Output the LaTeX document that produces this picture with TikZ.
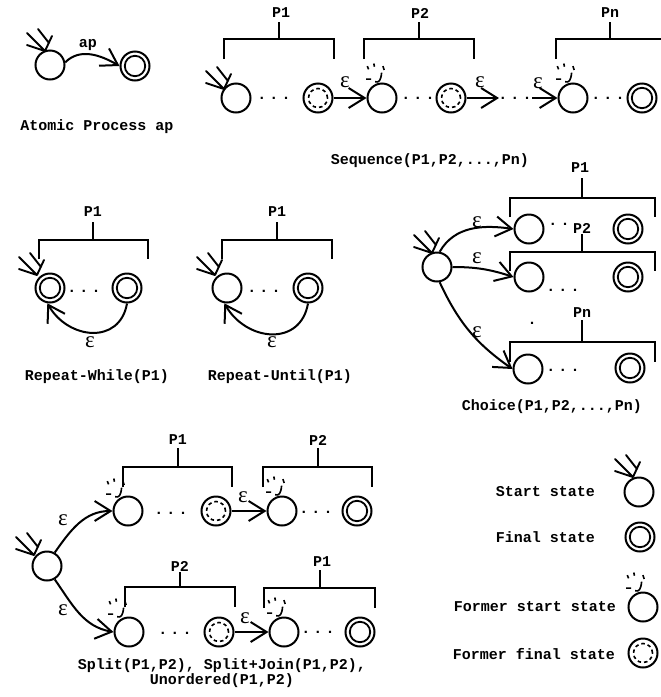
\documentclass[tikz,border=0pt]{standalone}
\usepackage{fontspec}
\newfontfamily\cour{Liberation Mono}
\newfontfamily\epsf{Liberation Serif}
\usetikzlibrary{arrows.meta}
\newcommand{\mybrk}[6]{\draw[lw] (#1,-#4)--(#1,-#3)--(#2,-#3)--(#2,-#4) (#5,-#3)--(#5,-#6);}
\begin{document}
\begin{tikzpicture}[x=1pt,y=1pt,
  lw/.style={line width=2pt},
  txt/.style={inner sep=0pt, font=\cour\bfseries\fontsize{15}{16}\selectfont},
  eps/.style={inner sep=0pt, font=\epsf\fontsize{23}{23}\selectfont},
  dots/.style={inner sep=0pt, font=\cour\bfseries\fontsize{15}{16}\selectfont},
  st/.style={circle, draw, line width=2pt, minimum size=29pt, inner sep=0pt},
  fst/.style={st, path picture={\draw[line width=1.8pt] (path picture bounding box.center) circle[radius=10.2pt];}},
  ffst/.style={st, path picture={\draw[line width=1.6pt, dash pattern=on 3.5pt off 3pt] (path picture bounding box.center) circle[radius=9.5pt];}},
  conn/.style={-{Straight Barb[length=16pt,width=20pt]}, line width=2pt},
  startmark/.pic={\draw[line width=1.9pt, line cap=round] (0,0)--(-18,6) (0,0)--(7,15) (0,0)--(-18,18) (-7,22)--(4,8);},
  fstartmark/.pic={\begin{scope}[scale=1.3]\draw[line width=1.6pt] (-9,13)--(-8,10.5) (-4,15)--(-3.5,12.5) (3,13)--(4,10) (-10,3)--(-6,3) (2,8) .. controls (1.5,2) and (0,0) .. (-3,1);\end{scope}}
]
\useasboundingbox (0,0) rectangle (661,-697);
\fill[white] (0,0) rectangle (661,-697);

% ---------- Atomic process
\node[st] (s0) at (50,-65) {};
\node[fst] (f0) at (135,-66) {};
\draw[conn] (s0.10) to[out=45,in=150] (f0.west);
\node[txt] (lap) at (88,-45) {ap};
\pic at (45,-51) {startmark};
\node[txt] (tatomic) at (97,-127) {Atomic Process ap};

% ---------- Sequence
\mybrk{224}{334}{39}{59}{279}{22}
\node[txt] (sp1) at (281,-13) {P1};
\mybrk{364}{474}{39}{59}{419}{22}
\node[txt] (sp2) at (420,-13) {P2};
\mybrk{556}{720}{39}{59}{610}{22}
\node[txt] (spn) at (610,-13) {Pn};
\node[st] (c1) at (236,-98) {};
\node[ffst] (c2) at (318,-98) {};
\node[st] (c3) at (382,-98) {};
\node[ffst] (c4) at (451,-98) {};
\node[st] (c5) at (573,-98) {};
\node[fst] (c6) at (642,-98) {};
\node[dots] (d1) at (274,-98) {.\hspace{3.2pt}.\hspace{3.2pt}.};
\node[dots] (d2) at (418,-98) {.\hspace{3.2pt}.\hspace{3.2pt}.};
\node[dots] (d3) at (515,-98) {.\hspace{3.2pt}.\hspace{3.2pt}.};
\node[dots] (d4) at (608,-98) {.\hspace{3.2pt}.\hspace{3.2pt}.};
\coordinate (q1) at (499,-98);
\coordinate (q2) at (532,-98);
\draw[conn] (c2.east) -- (c3.west);
\draw[conn] (c4.east) -- (q1);
\draw[conn] (q2) -- (c5.west);
\node[eps] (e1) at (345,-82) {ε};
\node[eps] (e2) at (480,-82) {ε};
\node[eps] (e3) at (538,-83) {ε};
\pic at (224,-89) {startmark};
\pic at (379,-83) {fstartmark};
\pic at (569,-83) {fstartmark};
\node[txt] (tseq) at (430,-161) {Sequence(P1,P2,...,Pn)};

% ---------- Repeat-While
\mybrk{39}{148}{240}{259}{93}{222}
\node[txt] (rwp) at (93,-212) {P1};
\node[fst] (r1) at (50,-288) {};
\node[fst] (r2) at (127,-288) {};
\node[dots] (rd) at (84,-291) {.\hspace{3.2pt}.\hspace{3.2pt}.};
\draw[conn] (r2.south) to[out=-100,in=-60,looseness=1.35] (r1.-100);
\node[eps] (re) at (90,-342) {ε};
\pic at (37,-275) {startmark};
\node[txt] (trw) at (97,-377) {Repeat-While(P1)};

% ---------- Repeat-Until
\mybrk{222}{332}{240}{259}{277}{222}
\node[txt] (rup) at (277,-212) {P1};
\node[st] (u1) at (227,-288) {};
\node[fst] (u2) at (308,-288) {};
\node[dots] (ud) at (264,-291) {.\hspace{3.2pt}.\hspace{3.2pt}.};
\draw[conn] (u2.south) to[out=-100,in=-60,looseness=1.35] (u1.-100);
\node[eps] (ue) at (272,-342) {ε};
\pic at (215,-275) {startmark};
\node[txt] (tru) at (280,-377) {Repeat-Until(P1)};

% ---------- Choice
\node[st] (ch0) at (437,-267) {};
\pic at (432,-253) {startmark};
\node[st] (ch1) at (529,-229) {};
\node[fst] (ch1f) at (628,-229) {};
\node[st] (ch2) at (529,-277) {};
\node[fst] (ch2f) at (628,-277) {};
\node[st] (chn) at (528,-369) {};
\node[fst] (chnf) at (630,-368) {};
\mybrk{510}{655}{198}{217}{582}{178}
\node[txt] (cp1) at (580,-168) {P1};
\node[dots] (cd1) at (559,-224) {.\hspace{3.2pt}.};
\mybrk{510}{655}{252}{271}{582}{234}
\node[txt] (cp2) at (582,-228) {P2};
\mybrk{510}{655}{342}{362}{582}{320}
\node[txt] (cpn) at (582,-313) {Pn};
\node[dots] (cd2) at (563,-290) {.\hspace{3.2pt}.\hspace{3.2pt}.};
\node[dots] (cdn) at (563,-370) {.\hspace{3.2pt}.\hspace{3.2pt}.};
\node[dots] (cdv) at (532,-323) {.};
\draw[conn] (ch0.80) to[out=60,in=172] (ch1.west);
\draw[conn] (ch0.east) to[out=0,in=162] (ch2.west);
\draw[conn] (ch0.-80) to[out=-65,in=145] (chn.west);
\node[eps] (ce1) at (477,-222) {ε};
\node[eps] (ce2) at (477,-258) {ε};
\node[eps] (ce3) at (477,-332) {ε};
\node[txt] (tch) at (552,-407) {Choice(P1,P2,...,Pn)};

% ---------- Split
\node[st] (sp0) at (47,-566) {};
\pic at (34,-555) {startmark};
\node[st] (a1) at (128,-511) {};
\node[ffst] (a2) at (216,-511) {};
\node[st] (a3) at (282,-511) {};
\node[fst] (a4) at (357,-511) {};
\node[st] (b1) at (129,-632) {};
\node[ffst] (b2) at (219,-632) {};
\node[st] (b3) at (284,-632) {};
\node[fst] (b4) at (360,-632) {};
\mybrk{123}{232}{467}{487}{178}{448}
\node[txt] (sa1) at (178,-440) {P1};
\mybrk{263}{372}{467}{487}{318}{448}
\node[txt] (sa2) at (318,-440) {P2};
\mybrk{125}{235}{587}{607}{180}{572}
\node[txt] (sb1) at (180,-566) {P2};
\mybrk{264}{375}{588}{608}{320}{570}
\node[txt] (sb2) at (322,-562) {P1};
\node[dots] (sda1) at (171,-513) {.\hspace{3.2pt}.\hspace{3.2pt}.};
\node[dots] (sda2) at (316,-512) {.\hspace{3.2pt}.\hspace{3.2pt}.};
\node[dots] (sdb1) at (175,-633) {.\hspace{3.2pt}.\hspace{3.2pt}.};
\node[dots] (sdb2) at (318,-632) {.\hspace{3.2pt}.\hspace{3.2pt}.};
\draw[conn] (sp0.60) to[out=55,in=180] (a1.west);
\draw[conn] (sp0.-60) to[out=-55,in=170] (b1.west);
\draw[conn] (a2.east) -- (a3.west);
\draw[conn] (b2.east) -- (b3.west);
\node[eps] (se1) at (63,-520) {ε};
\node[eps] (se2) at (63,-610) {ε};
\node[eps] (se3) at (243,-497) {ε};
\node[eps] (se4) at (245,-618) {ε};
\pic at (119,-498) {fstartmark};
\pic at (279,-496) {fstartmark};
\pic at (121,-618) {fstartmark};
\pic at (280,-617) {fstartmark};
\node[txt, align=center] (tsplit) at (222,-673) {Split(P1,P2), Split+Join(P1,P2),\\[-1pt]Unordered(P1,P2)};

% ---------- Legend
\node[txt, anchor=east] (l1) at (595,-492) {Start state};
\node[st] (lg1) at (639,-492) {};
\pic at (633,-477) {startmark};
\node[txt, anchor=east] (l2) at (595,-537) {Final state};
\node[fst] (lg2) at (640,-537) {};
\node[txt, anchor=east] (l3) at (616,-607) {Former start state};
\node[st] (lg3) at (643,-607) {};
\pic at (639,-592) {fstartmark};
\node[txt, anchor=east] (l4) at (615,-654) {Former final state};
\node[ffst] (lg4) at (643,-653) {};
\end{tikzpicture}
\end{document}
